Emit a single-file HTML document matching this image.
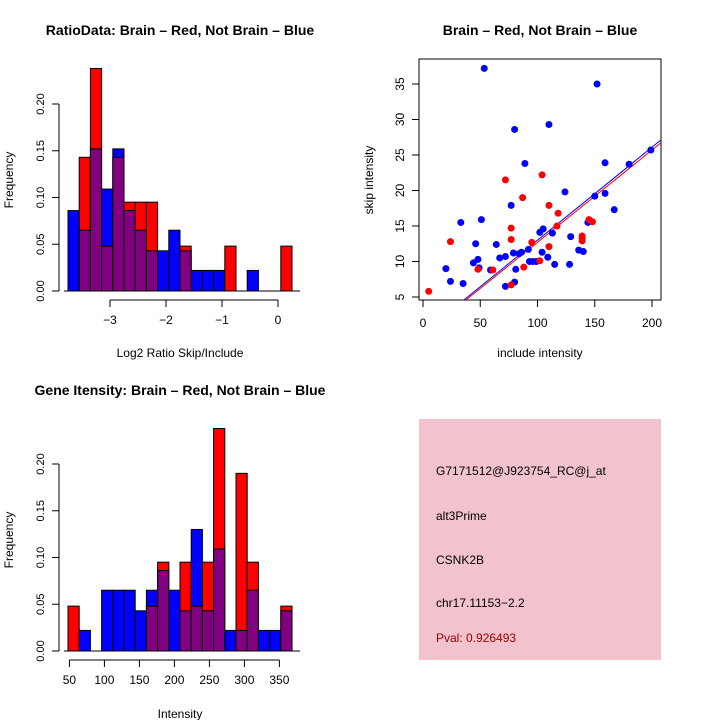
<!DOCTYPE html>
<html><head><meta charset="utf-8"><style>
html,body{margin:0;padding:0;background:#fff;width:720px;height:720px;overflow:hidden}
text{font-family:"Liberation Sans",sans-serif}
</style></head><body>
<svg id="svg" width="720" height="720" viewBox="0 0 720 720" xmlns="http://www.w3.org/2000/svg">
<rect width="720" height="720" fill="#fff"/>
<text x="180" y="35" font-size="14" font-weight="bold" text-anchor="middle">RatioData: Brain – Red, Not Brain – Blue</text>
<text x="540" y="35" font-size="14" font-weight="bold" text-anchor="middle">Brain – Red, Not Brain – Blue</text>
<text x="180" y="395" font-size="14" font-weight="bold" text-anchor="middle">Gene Itensity: Brain – Red, Not Brain – Blue</text>
<text x="180" y="357" font-size="12" text-anchor="middle">Log2 Ratio Skip/Include</text>
<text x="180" y="718" font-size="12" text-anchor="middle">Intensity</text>
<text x="540" y="357" font-size="12" text-anchor="middle">include intensity</text>
<text transform="translate(13,180) rotate(-90)" font-size="12" text-anchor="middle">Frequency</text>
<text transform="translate(13,540) rotate(-90)" font-size="12" text-anchor="middle">Frequency</text>
<text transform="translate(373,180) rotate(-90)" font-size="12" text-anchor="middle">skip intensity</text>
<g>
<rect x="419" y="419" width="242" height="241" fill="#f2c2cd"/>
<text x="436" y="475" font-size="12" fill="#000">G7171512@J923754_RC@j_at</text>
<text x="436" y="520" font-size="12" fill="#000">alt3Prime</text>
<text x="436" y="564" font-size="12" fill="#000">CSNK2B</text>
<text x="436" y="607" font-size="12" fill="#000">chr17.11153−2.2</text>
<text x="436" y="642" font-size="12" fill="#a00000">Pval: 0.926493</text>
</g>
<g id="g"></g>
</svg>
<script>
// Histogram 1 (log2 ratio), bins from -3.75 width 0.2
const ratioBlue=[0.086,0.065,0.152,0.109,0.152,0.086,0.065,0.043,0.043,0.065,0.043,0.022,0.022,0.022,0,0,0.022,0,0,0];
const ratioRed =[0,0.143,0.238,0.048,0.143,0.095,0.095,0.095,0,0,0.048,0,0,0,0.048,0,0,0,0,0.048];
const ratioXTicks=[-3,-2,-1,0];
const freqTicks=[0,0.05,0.10,0.15,0.20];
const freqTickLabels=["0.00","0.05","0.10","0.15","0.20"];
// Histogram 2 (intensity), bins from 48 width 16
const intBlue=[0,0.022,0,0.065,0.065,0.065,0.043,0.065,0.086,0.065,0.043,0.130,0.043,0.109,0.022,0.022,0.065,0.022,0.022,0.043];
const intRed =[0.048,0,0,0,0,0,0,0.048,0.095,0,0.095,0.048,0.095,0.238,0,0.190,0.095,0,0,0.048];
const intXTicks=[50,100,150,200,250,300,350];
// Scatter
const blueX=[53.5,152,80,110,89,159,199,180,124,159,150,167,77,33,51,144,46,64,102,105,113,129,136,140,115,128,104,109,44,48,49,20,24,35,59,67,72,72,80,81,79,84,86,92,93,99,96];
const blueY=[37.2,35,28.6,29.3,23.8,23.9,25.7,23.7,19.8,19.6,19.2,17.3,17.9,15.5,15.9,15.5,12.5,12.4,14.1,14.6,14.0,13.5,11.6,11.4,9.6,9.6,11.3,10.6,9.8,10.3,9.1,9.0,7.2,6.9,8.8,10.5,10.7,6.5,7.1,8.9,11.2,11.1,11.3,11.7,10.0,10.0,10.0];
const redX=[5,24,48,61,72,77,77,77,87,88,95,102,104,110,110,118,117,145,148,139,139,139];
const redY=[5.8,12.8,8.9,8.8,21.5,14.7,13.1,6.7,19.0,9.2,12.7,10.1,22.2,17.9,12.1,16.8,15.0,15.9,15.6,13.3,12.9,13.6];
const fitBlue=[-0.1,0.131];
const fitRed=[-0.3,0.130];
const scXTicks=[0,50,100,150,200];
const scYTicks=[5,10,15,20,25,30,35];

const NS="http://www.w3.org/2000/svg";
const g=document.getElementById('g');
function mk(t,a,p){const e=document.createElementNS(NS,t);for(const k in a)e.setAttribute(k,a[k]);(p||g).appendChild(e);return e;}

function hist(blue,red,x0,y0,binStart,binW,pxPerUnit,xTicks,xAxisY,name){
  const fy=v=>y0-v*935;
  const fx=v=>x0+(v-binStart)*pxPerUnit;
  for(let i=0;i<blue.length;i++){
    const b=blue[i],r=red[i];
    const xa=fx(binStart+i*binW), w=binW*pxPerUnit;
    const mx=Math.max(b,r),mn=Math.min(b,r);
    if(mx>0){
      const e=mk('rect',{x:xa,y:fy(mx),width:w,height:fy(0)-fy(mx),fill:b>=r?'#0000ff':'#ff0000',stroke:'#000','stroke-width':1});
      
      
    }
    if(mn>0){
      const e=mk('rect',{x:xa,y:fy(mn),width:w,height:fy(0)-fy(mn),fill:'#800080',stroke:'#000','stroke-width':1});
      
      
    }
  }
  const ya=mk('line',{x1:59,x2:59,y1:fy(0),y2:fy(0.2),stroke:'#000'});
  
  
  freqTicks.forEach((t,i)=>{
    mk('line',{x1:52,x2:59,y1:fy(t),y2:fy(t),stroke:'#000'});
    const tx=mk('text',{transform:`translate(44,${fy(t)}) rotate(-90)`,'font-size':11,'text-anchor':'middle'});
    tx.textContent=freqTickLabels[i];
    
    
  });
  const xa=mk('line',{x1:fx(xTicks[0]),x2:fx(xTicks[xTicks.length-1]),y1:xAxisY,y2:xAxisY,stroke:'#000'});
  
  
  xTicks.forEach(t=>{
    mk('line',{x1:fx(t),x2:fx(t),y1:xAxisY,y2:xAxisY+7,stroke:'#000'});
    const tx=mk('text',{x:fx(t),y:xAxisY+24,'font-size':12,'text-anchor':'middle'});
    tx.textContent=t<0?'−'+(-t):String(t);
    
    
  });
  mk('line',{x1:fx(binStart)-4,x2:fx(binStart+binW*blue.length)+8,y1:fy(0),y2:fy(0),stroke:'#000'});
}
hist(ratioBlue,ratioRed,68,291,-3.75,0.2,56,ratioXTicks,300,'ratio-hist');
hist(intBlue,intRed,68,651,48,16,0.7,intXTicks,660,'intensity-hist');

const sx=v=>423+v*1.145;
const sy=v=>297-(v-5)*7.1;
const box=mk('rect',{x:419,y:59,width:242,height:241,fill:'none',stroke:'#000'});


scXTicks.forEach(t=>{
  mk('line',{x1:sx(t),x2:sx(t),y1:300,y2:307,stroke:'#000'});
  const tx=mk('text',{x:sx(t),y:327,'font-size':12,'text-anchor':'middle'});
  tx.textContent=t;
  
  
});
scYTicks.forEach(t=>{
  mk('line',{x1:412,x2:419,y1:sy(t),y2:sy(t),stroke:'#000'});
  const tx=mk('text',{transform:`translate(404,${sy(t)}) rotate(-90)`,'font-size':12,'text-anchor':'middle'});
  tx.textContent=t;
  
  
});
const clip=mk('clipPath',{id:'sc'});mk('rect',{x:419,y:59,width:242,height:241},clip);
const pg=mk('g',{'clip-path':'url(#sc)'});
function fit(f,c,n){
  const x1=0,x2=210;
  const l=mk('line',{x1:sx(x1),y1:sy(f[0]+f[1]*x1),x2:sx(x2),y2:sy(f[0]+f[1]*x2),stroke:c,'stroke-width':1},pg);
  
  
}
fit(fitRed,'#ff0000','red-fit-line');
fit(fitBlue,'#0000ff','blue-fit-line');
blueX.forEach((x,i)=>{
  const c=mk('circle',{cx:sx(x),cy:sy(blueY[i]),r:3.5,fill:'#0000ff'},pg);
  
  
});
redX.forEach((x,i)=>{
  const c=mk('circle',{cx:sx(x),cy:sy(redY[i]),r:3.5,fill:'#ff0000'},pg);
  
  
});
</script>
</body></html>
